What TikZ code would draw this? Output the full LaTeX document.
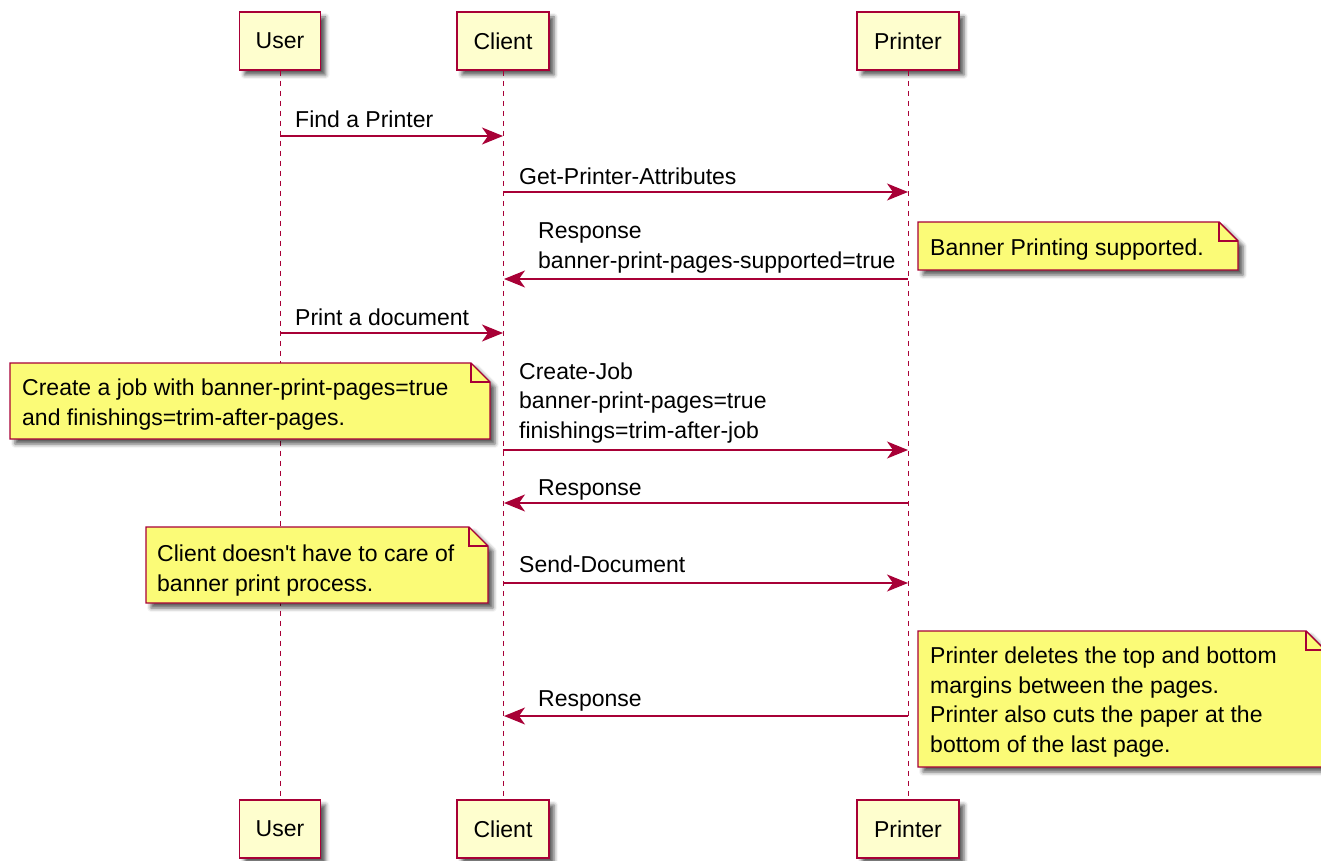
\documentclass[tikz,border=0pt]{standalone}
\usepackage{fontspec}
\setmainfont{Liberation Sans}
\usetikzlibrary{arrows.meta,shadows.blur}
\definecolor{pborder}{HTML}{A80036}
\definecolor{pfill}{HTML}{FEFECE}
\definecolor{nfill}{HTML}{FBFB77}
\newcommand{\notepath}[5]{%
  \path[notebox] (#1,#2) -- (#3-19,#2) -- (#3,#2+19) -- (#3,#4) -- (#1,#4) -- cycle;
  \draw[notefold] (#3-19,#2) -- (#3-19,#2+19) -- (#3,#2+19);
}
\begin{document}
\begin{tikzpicture}[x=1pt,y=-1pt,
  font=\fontsize{23}{29.5}\selectfont,
  shad/.style={blur shadow={shadow xshift=5pt,shadow yshift=-5pt,shadow blur radius=4pt,shadow opacity=65}},
  part/.style={draw=pborder,fill=pfill,line width=1.8pt,minimum height=58pt,inner sep=0pt,shad},
  life/.style={draw=pborder,line width=1pt,dash pattern=on 5pt off 5pt},
  msg/.style={draw=pborder,line width=1.4pt,-{Stealth[length=21pt,width=17pt,inset=6pt]}},
  lbl/.style={anchor=base west,inner sep=0pt,align=left,text=black},
  notebox/.style={draw=pborder,fill=nfill,line width=1.4pt,line join=miter,shad},
  notefold/.style={draw=pborder,line width=1.4pt},
]
\useasboundingbox (0,0) rectangle (1321,861);

% participants
\node[part,minimum width=81pt]  (uTop) at (280,41) {User};
\node[part,minimum width=92pt]  (cTop) at (503,41) {Client};
\node[part,minimum width=102pt] (pTop) at (908,41) {Printer};
\node[part,minimum width=81pt]  (uBot) at (280,829) {User};
\node[part,minimum width=92pt]  (cBot) at (503,829) {Client};
\node[part,minimum width=102pt] (pBot) at (908,829) {Printer};

% lifelines
\draw[life] (uTop.south) -- (uBot.north);
\draw[life] (cTop.south) -- (cBot.north);
\draw[life] (pTop.south) -- (pBot.north);

% message end points
\coordinate (u1) at (280,136); \coordinate (c1) at (503,136);
\coordinate (c2) at (503,192); \coordinate (p2) at (908,192);
\coordinate (p3) at (908,279); \coordinate (c3) at (504,279);
\coordinate (u4) at (280,333); \coordinate (c4) at (503,333);
\coordinate (c5) at (503,450); \coordinate (p5) at (908,450);
\coordinate (p6) at (908,503); \coordinate (c6) at (504,503);
\coordinate (c7) at (503,583); \coordinate (p7) at (908,583);
\coordinate (p8) at (908,716); \coordinate (c8) at (504,716);

% notes (drawn before labels); multi-line labels are placed by their last baseline
\notepath{918}{222}{1238}{270}{}
\node[lbl] (n1) at (930,255) {Banner Printing supported.};
\notepath{10}{363}{490}{439}{}
\node[lbl] (n2) at (22,425) {Create a job with banner-print-pages=true\\and finishings=trim-after-pages.};
\notepath{146}{527}{488}{603}{}
\node[lbl] (n3) at (157,591) {Client doesn\textquotesingle t have to care of\\banner print process.};
\notepath{918}{631}{1325}{767}{}
\node[lbl] (n4) at (930,752) {Printer deletes the top and bottom\\margins between the pages.\\Printer also cuts the paper at the\\bottom of the last page.};

% messages
\draw[msg] (u1) -- (c1);
\node[lbl] (m1) at (295,128) {Find a Printer};
\draw[msg] (c2) -- (p2);
\node[lbl] (m2) at (519,184) {Get-Printer-Attributes};
\draw[msg] (p3) -- (c3);
\node[lbl] (m3) at (538,268) {Response\\banner-print-pages-supported=true};
\draw[msg] (u4) -- (c4);
\node[lbl] (m4) at (295,325) {Print a document};
\draw[msg] (c5) -- (p5);
\node[lbl] (m5) at (519,438) {Create-Job\\banner-print-pages=true\\finishings=trim-after-job};
\draw[msg] (p6) -- (c6);
\node[lbl] (m6) at (538,495) {Response};
\draw[msg] (c7) -- (p7);
\node[lbl] (m7) at (519,572) {Send-Document};
\draw[msg] (p8) -- (c8);
\node[lbl] (m8) at (538,706) {Response};
\end{tikzpicture}
\end{document}
